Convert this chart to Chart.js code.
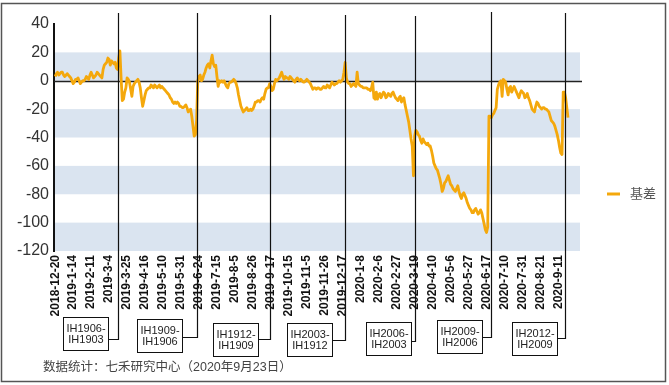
<!DOCTYPE html>
<html lang="zh">
<head>
    <meta charset="UTF-8">
    <title>IH基差</title>
    <style>
        body { margin: 0; background: #fff; }
        #wrap { width: 669px; height: 385px; }
    </style>
</head>
<body>
<div id="wrap">
    <canvas id="myChart"></canvas>
</div>

<script src="https://cdn.jsdelivr.net/npm/chart.js"></script>

<script>
    // x axis tick labels, one every 15 trading days from 2018-12-20
    const tickLabels = ['2018-12-20', '2019-1-14', '2019-2-11', '2019-3-4', '2019-3-25', '2019-4-16',
        '2019-5-10', '2019-5-31', '2019-6-24', '2019-7-15', '2019-8-5', '2019-8-26', '2019-9-17',
        '2019-10-15', '2019-11-5', '2019-11-26', '2019-12-17', '2020-1-8', '2020-2-6', '2020-2-27',
        '2020-3-19', '2020-4-10', '2020-5-6', '2020-5-27', '2020-6-17', '2020-7-10', '2020-7-31',
        '2020-8-21', '2020-9-11'];
    const tickStep = 15;

    // daily basis, one value per trading day
    const basis = [
        3, 5, 6, 4, 5, 6, 6, 4, 3, 4,
        5, 4, 3, 2, 0, -2, -1, 1, 1, 2,
        0, -2, -1, 0, 0, 1, 3, 2, 1, 4,
        6, 4, 2, 3, 4, 6, 5, 4, 3, 2,
        8, 11, 12, 13, 16, 15, 11, 14, 13, 12,
        13, 9, 8, 16, 21, 2, -14, -13, -8, -5,
        2, 1, -1, -6, -11, -4, -2, -1, 0, 1,
        -1, -5, -12, -18, -14, -10, -7, -6, -5, -5,
        -3, -4, -5, -3, -4, -5, -4, -3, -5, -4,
        -5, -6, -7, -8, -9, -10, -12, -13, -15, -16,
        -15, -16, -15, -16, -18, -18, -19, -19, -18, -17,
        -19, -22, -21, -20, -25, -32, -39, -38, -28, 0,
        3, 4, 0, 1, 4, 6, 9, 11, 12, 9,
        14, 18, 12, 10, 11, 3, -4, 0, -1, 0,
        -1, 0, -2, -4, -5, -2, -1, -1, 0, 1,
        0, -2, -5, -10, -14, -18, -20, -22, -21, -20,
        -19, -21, -21, -20, -21, -20, -18, -15, -15, -14,
        -14, -15, -13, -12, -13, -9, -6, -5, -5, -2,
        -4, -7, -6, -2, 1, 0, 1, 2, 4, 6,
        3, 1, 3, 2, 2, 1, 3, 2, 1, 0,
        -1, 1, 2, 1, 0, 1, 0, -1, -1, 0,
        1, 0, -1, -2, -4, -6, -5, -5, -6, -5,
        -5, -6, -6, -5, -4, -5, -5, -3, -4, -5,
        -3, -1, -2, -3, -2, -2, -1, 0, -1, 0,
        1, 6, 13, 2, -1, -2, -2, -4, -3, -2,
        -3, -4, 6, -2, -3, -4, -4, -5, -5, -5,
        -5, -6, -6, -7, -5, -1, -12, -13, -8, -13,
        -10, -9, -12, -10, -8, -9, -12, -11, -9, -10,
        -11, -9, -8, -10, -12, -13, -14, -12, -11, -15,
        -13, -12, -17, -21, -25, -29, -35, -41, -46, -67,
        -39, -35, -36, -38, -39, -42, -44, -41, -43, -44,
        -45, -44, -46, -46, -49, -53, -58, -60, -62, -63,
        -66, -69, -73, -78, -76, -72, -71, -69, -67, -70,
        -73, -74, -76, -77, -78, -76, -74, -78, -81, -83,
        -80, -79, -81, -83, -86, -88, -90, -91, -93, -93,
        -91, -90, -92, -94, -93, -91, -93, -97, -101, -105,
        -107, -103, -25, -25, -26, -24, -23, -21, -19, -6,
        -3, -1, 0, -11, 1, 0, -1, -6, -10, -5,
        -4, -8, -6, -4, -6, -8, -10, -12, -9, -7,
        -8, -9, -12, -11, -9, -12, -14, -17, -20, -21,
        -22, -18, -15, -16, -18, -19, -20, -19, -19, -20,
        -20, -21, -22, -25, -28, -29, -30, -32, -35, -38,
        -42, -47, -51, -52, -8, -8, -12, -19, -26
    ];

    // contract roll days (trading day index) and their labels
    const rollDays = [52.6, 118.6, 179.6, 242.2, 300.6, 364.1, 425.6];
    const rollNames = [
        ['IH1906-', 'IH1903'], ['IH1909-', 'IH1906'], ['IH1912-', 'IH1909'], ['IH2003-', 'IH1912'],
        ['IH2006-', 'IH2003'], ['IH2009-', 'IH2006'], ['IH2012-', 'IH2009']
    ];

    // where the label boxes sit
    const boxLeft = [63, 137, 213, 287, 366, 437, 512];
    const boxTop = [317, 319, 323, 323, 322, 320, 322];
    const linkY = [339, 337, 339, 340, 341, 337, 338];
    const lineTop = [13, 13, 15, 15, 16, 12, 13];

    const FONT = "'Liberation Sans', Arial, 'Noto Sans CJK SC', sans-serif";
    const ORANGE = '#f4a80c';
    const BAND = '#dae4f0';

    const bandsPlugin = {
        id: 'bands',
        beforeDraw(chart) {
            const c = chart.ctx;
            c.save();
            c.fillStyle = '#fff';
            c.fillRect(0, 0, chart.width, chart.height);
            c.restore();
        },
        beforeDatasetsDraw(chart) {
            const c = chart.ctx, a = chart.chartArea, y = chart.scales.y;
            c.save();
            c.fillStyle = BAND;
            for (let v = 20; v > -120; v -= 40) {
                const y1 = y.getPixelForValue(v), y2 = y.getPixelForValue(v - 20);
                c.fillRect(a.left + 1, y1, a.right - a.left - 1, y2 - y1);
            }
            const y0 = Math.round(y.getPixelForValue(0)) + 0.5;
            c.strokeStyle = '#222';
            c.lineWidth = 1.3;
            c.beginPath();
            c.moveTo(a.left, y0);
            c.lineTo(a.right + 2, y0);
            c.stroke();
            c.restore();
        },
        afterDraw(chart) {
            const c = chart.ctx, x = chart.scales.x;
            c.save();
            // roll lines and label boxes
            rollDays.forEach((d, i) => {
                const px = Math.round(x.getPixelForValue(d)) + 0.5;
                const bx = boxLeft[i] + 0.5, by = boxTop[i] + 0.5, bw = 45, bh = 33;
                c.strokeStyle = '#111';
                c.lineWidth = 1.2;
                c.beginPath();
                c.moveTo(px, lineTop[i]);
                c.lineTo(px, linkY[i] + 0.5);
                c.lineTo(bx + bw, linkY[i] + 0.5);
                c.stroke();
                c.fillStyle = '#fff';
                c.fillRect(bx, by, bw, bh);
                c.lineWidth = 1;
                c.strokeRect(bx, by, bw, bh);
                c.fillStyle = '#222';
                c.font = '11px ' + FONT;
                c.textAlign = 'center';
                c.textBaseline = 'middle';
                c.fillText(rollNames[i][0], bx + bw / 2, by + bh / 2 - 5);
                c.fillText(rollNames[i][1], bx + bw / 2, by + bh / 2 + 6);
            });
            // legend
            c.strokeStyle = ORANGE;
            c.lineWidth = 3;
            c.beginPath();
            c.moveTo(607, 194);
            c.lineTo(620, 194);
            c.stroke();
            c.fillStyle = '#555';
            c.font = '13px ' + FONT;
            c.textAlign = 'left';
            c.textBaseline = 'middle';
            c.fillText(chart.data.datasets[0].label, 630, 194);
            // source note
            c.fillStyle = '#444';
            c.font = '12.5px ' + FONT;
            c.fillText('数据统计：七禾研究中心（2020年9月23日）', 43, 368);
            // frame
            c.strokeStyle = '#555';
            c.lineWidth = 1.5;
            c.strokeRect(1.5, 3.5, 664, 378);
            c.restore();
        }
    };

    const ctx = document.getElementById('myChart');

    new Chart(ctx, {
        type: 'line',
        data: {
            datasets: [{
                label: '基差',
                data: basis.map((v, i) => ({x: i, y: v})),
                borderColor: ORANGE,
                backgroundColor: ORANGE,
                borderWidth: 2.8,
                pointRadius: 0,
                tension: 0,
                borderJoinStyle: 'round'
            }]
        },
        options: {
            responsive: true,
            maintainAspectRatio: false,
            animation: false,
            layout: {padding: {top: 24, right: 89, left: 0, bottom: 0}},
            plugins: {legend: {display: false}, tooltip: {enabled: false}},
            scales: {
                x: {
                    type: 'linear',
                    min: -1,
                    max: 438,
                    afterBuildTicks(s) {
                        s.ticks = tickLabels.map((_, i) => ({value: i * tickStep}));
                    },
                    afterFit(s) { s.height = 134; },
                    ticks: {
                        autoSkip: false,
                        maxRotation: 90,
                        minRotation: 90,
                        padding: 4,
                        color: '#111',
                        font: {family: FONT, size: 12, weight: 'bold'},
                        callback: (v, i) => tickLabels[i]
                    },
                    grid: {display: false, drawTicks: false},
                    border: {display: false}
                },
                y: {
                    min: -120,
                    max: 40,
                    afterFit(s) { s.width = 54; },
                    ticks: {
                        stepSize: 20,
                        padding: 5,
                        color: '#333',
                        font: {family: FONT, size: 16}
                    },
                    grid: {display: false, drawTicks: false},
                    border: {display: true, color: '#111', width: 2}
                }
            }
        },
        plugins: [bandsPlugin]
    });
</script>

</body>
</html>
